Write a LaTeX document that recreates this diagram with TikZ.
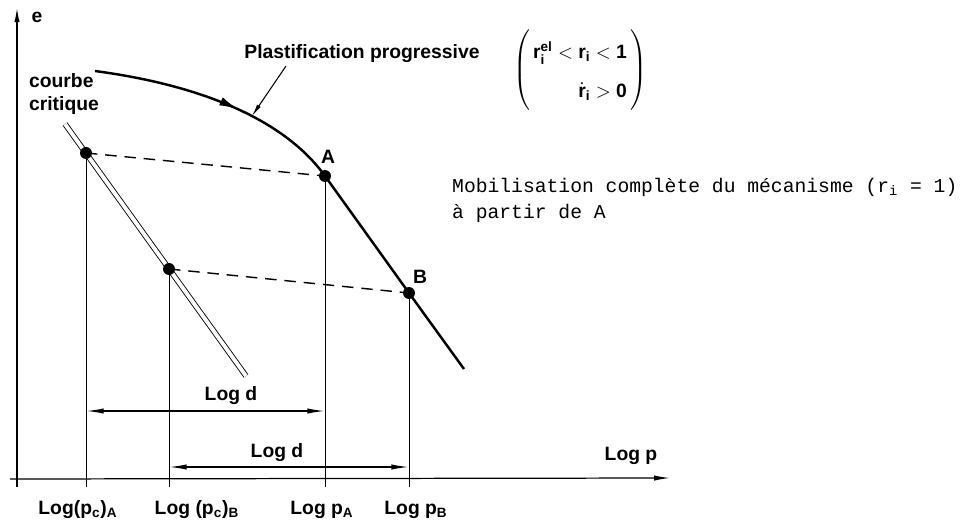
\documentclass[tikz,border=0pt]{standalone}
\usepackage{amsmath}
\usepackage{fontspec}
\setsansfont{Liberation Sans}
\setmonofont{Liberation Mono}
\usetikzlibrary{arrows.meta,decorations.markings}

\tikzset{
  lbl/.style={font=\sffamily\bfseries\fontsize{11}{13}\selectfont, inner sep=1pt},
  ptdot/.style={circle, fill, inner sep=0pt, minimum size=6.8pt},
  guide/.style={line width=0.5pt},
  proj/.style={dash pattern=on 6.5pt off 4.5pt, line width=0.8pt},
  dimarrow/.style={line width=0.8pt, {Latex[length=10pt,width=3pt]}-{Latex[length=10pt,width=3pt]}},
}

\begin{document}
\begin{tikzpicture}[x=0.02cm, y=-0.02cm]
  \useasboundingbox (0,0) rectangle (960,531);
  % axes
  \coordinate (O) at (17,479); \coordinate (ytop) at (17,8); \coordinate (xend) at (670,478);
  \draw[line width=0.7pt, -{Latex[length=8pt,width=3pt]}] (17,487) -- (ytop);
  \draw[line width=0.7pt, -{Latex[length=9pt,width=3pt]}] (10,479) -- (xend);
  \node[lbl] (e) at (37,17) {e}; \node[lbl] (logp) at (631,456) {Log p};
  % points
  \coordinate (CA) at (86,153); \coordinate (CB) at (169,269);
  \coordinate (A) at (325,176); \coordinate (B) at (409,293);
  \node[lbl] (Alab) at (328,157) {A}; \node[lbl] (Blab) at (420,277) {B};
  % critical curve
  \coordinate (cc1) at (65,124); \coordinate (cc2) at (246,376);
  \draw[double, double distance=2.2pt, line width=0.5pt] (cc1) -- (cc2);
  \node[lbl, align=left, anchor=west] (cc) at (27,94) {courbe\\critique};
  % plastification curve
  \coordinate (p0) at (95,71); \coordinate (pend) at (464,369);
  \draw[line width=1.4pt, postaction={decorate}, decoration={markings, mark=at position 0.3 with {\arrow{Latex[length=11pt,width=5pt]}}}]
    (p0) .. controls (200,85) and (284,119) .. (A) -- (B) -- (pend);
  \node[lbl] (plast) at (362,54) {Plastification progressive};
  \coordinate (ptrS) at (286,66); \coordinate (ptrE) at (252,116);
  \draw[line width=0.6pt, -{Latex[length=7pt,width=2.5pt]}] (ptrS) -- (ptrE);
  \node[lbl] (cond) at (580,70) {$\renewcommand{\arraystretch}{1.7}\left(\begin{array}{@{\,}r@{\,}}
      \text{r}^{\text{el}}_{\text{i}} < \text{r}_{\text{i}} < \text{1}\\
      \dot{\text{r}}_{\text{i}} > \text{0}\end{array}\right)$};
  \node[anchor=west, align=left, font=\ttfamily\fontsize{11.2}{14.7}\selectfont] (mob) at (446,200)
    {Mobilisation complète du mécanisme (r$_{\text{i}}$ = 1)\\à partir de A};
  % projections
  \draw[proj] (CA) -- (A); \draw[proj] (CB) -- (B);
  \coordinate (fA) at (86,487); \coordinate (fB) at (169,487); \coordinate (fpA) at (325,487); \coordinate (fpB) at (409,487);
  \draw[guide] (CA) -- (fA); \draw[guide] (CB) -- (fB);
  \draw[guide] (A) -- (fpA); \draw[guide] (B) -- (fpB);
  \foreach \p in {CA,CB,A,B} \node[ptdot] (dot\p) at (\p) {};
  % Log d
  \coordinate (d1l) at (86,411); \coordinate (d1r) at (325,411);
  \coordinate (d2l) at (169,467); \coordinate (d2r) at (409,467);
  \draw[dimarrow] (d1l) -- (d1r); \draw[dimarrow] (d2l) -- (d2r);
  \node[lbl] (logd1) at (231,396) {Log d}; \node[lbl] (logd2) at (277,453) {Log d};
  % abscissae
  \node[lbl] (lpcA) at (78,510) {Log(p$_{\text{c}}$)$_{\text{A}}$};
  \node[lbl] (lpcB) at (197,510) {Log (p$_{\text{c}}$)$_{\text{B}}$};
  \node[lbl] (lpA) at (322,510) {Log p$_{\text{A}}$};
  \node[lbl] (lpB) at (416,510) {Log p$_{\text{B}}$};
\end{tikzpicture}
\end{document}
